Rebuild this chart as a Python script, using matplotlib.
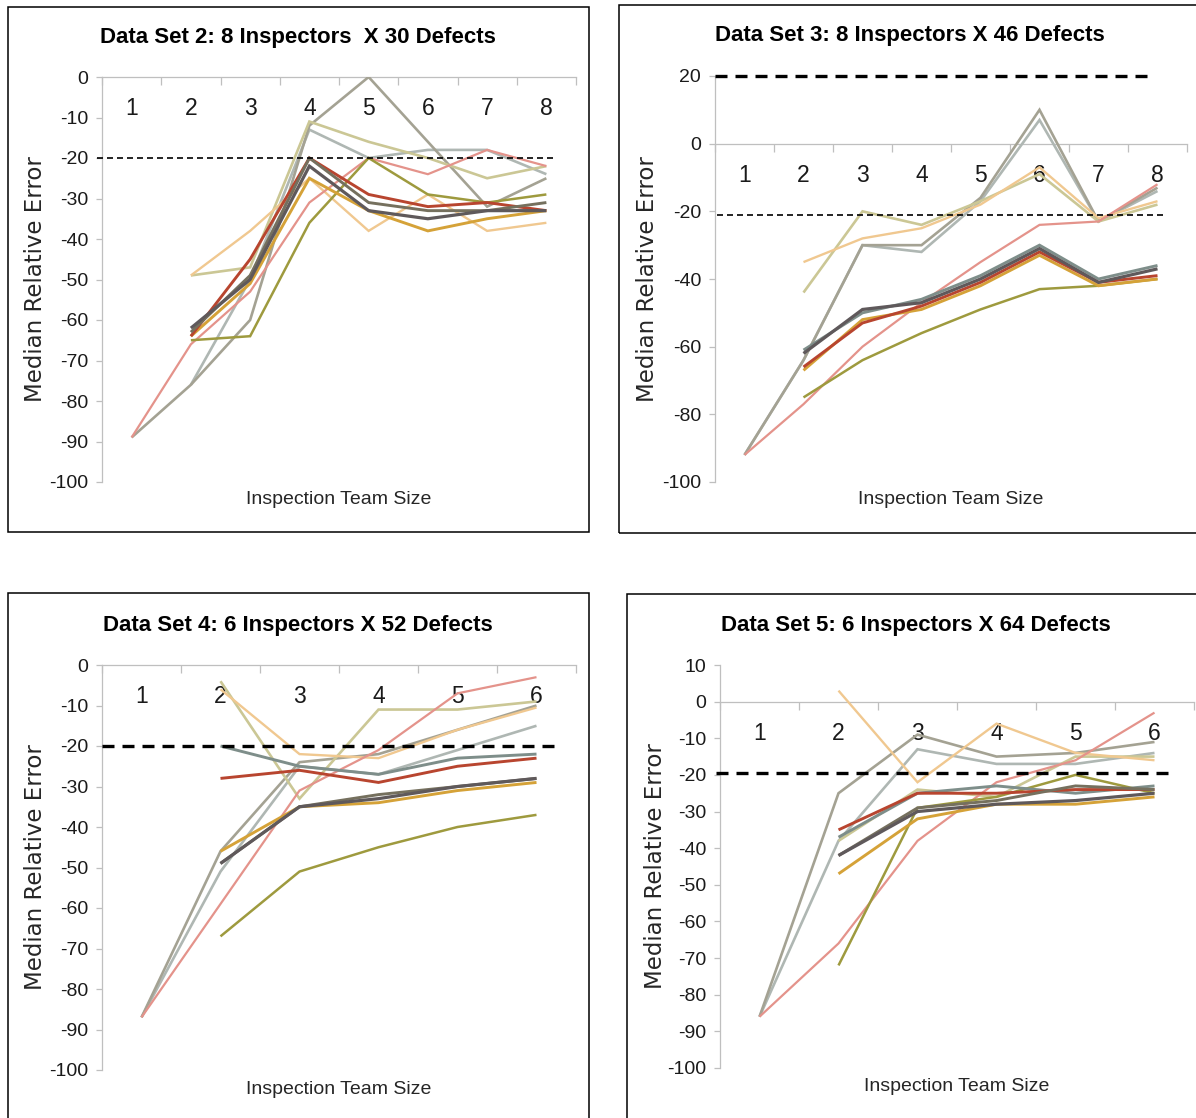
import numpy as np
import matplotlib
matplotlib.use("Agg")
import matplotlib.pyplot as plt
from matplotlib.patches import Rectangle

W, H = 1196, 1118
nan = np.nan

# ---------------- data ----------------
series_order = ["bluegray", "gray", "khaki", "lorange", "pink", "olive",
                "golden", "teal", "red", "dkolive", "darkgray"]

series_colors = {
    "pink": "#E4938B", "gray": "#A4A293", "bluegray": "#AFB7B3",
    "khaki": "#CBC795", "lorange": "#F0C890", "red": "#B8452F",
    "darkgray": "#5F595B", "dkolive": "#75705E", "teal": "#7E8E8A",
    "golden": "#D5A238", "olive": "#9E9A3E",
}
series_widths = {
    "pink": 1.6, "gray": 1.9, "bluegray": 1.9, "khaki": 1.9, "lorange": 1.7,
    "red": 2.1, "darkgray": 2.3, "dkolive": 2.1, "teal": 2.1,
    "golden": 2.1, "olive": 1.8,
}

ds2_sizes = [1, 2, 3, 4, 5, 6, 7, 8]
ds2 = {
    "pink":     [-89, -66, -53, -31, -20, -24, -18, -22],
    "gray":     [-89, -76, -60, -12, 0, -16, -32, -25],
    "bluegray": [nan, -76, -50, -13, -20, -18, -18, -24],
    "khaki":    [nan, -49, -47, -11, -16, -20, -25, -22],
    "lorange":  [nan, -49, -38, -25, -38, -29, -38, -36],
    "red":      [nan, -64, -45, -20, -29, -32, -31, -33],
    "darkgray": [nan, -62, -50, -22, -33, -35, -33, -33],
    "dkolive":  [nan, -63, -49, -20, -31, -33, -33, -31],
    "golden":   [nan, -64, -51, -25, -33, -38, -35, -33],
    "olive":    [nan, -65, -64, -36, -20, -29, -31, -29],
}

ds3_sizes = [1, 2, 3, 4, 5, 6, 7, 8]
ds3 = {
    "pink":     [-92, -77, -60, -47, -35, -24, -23, -12],
    "gray":     [-92, -64, -30, -30, -16, 10, -23, -13],
    "bluegray": [-92, -64, -30, -32, -17, 7, -23, -14],
    "khaki":    [nan, -44, -20, -24, -17, -9, -23, -18],
    "lorange":  [nan, -35, -28, -25, -18, -7, -22, -17],
    "teal":     [nan, -61, -50, -46, -39, -30, -40, -36],
    "darkgray": [nan, -62, -49, -47, -40, -31, -41, -37],
    "red":      [nan, -66, -53, -48, -41, -32, -41, -39],
    "golden":   [nan, -67, -52, -49, -42, -33, -42, -40],
    "olive":    [nan, -75, -64, -56, -49, -43, -42, -40],
}

ds4_sizes = [1, 2, 3, 4, 5, 6]
ds4 = {
    "pink":     [-87, -59, -31, -21, -7, -3],
    "gray":     [-87, -46, -24, -22, -16, -10],
    "bluegray": [-87, -51, -25, -27, -21, -15],
    "khaki":    [nan, -4, -33, -11, -11, -9],
    "lorange":  [nan, -6, -22, -23, -16, -10.5],
    "teal":     [nan, -20, -25, -27, -23, -22],
    "red":      [nan, -28, -26, -29, -25, -23],
    "dkolive":  [nan, -49, -35, -32, -30, -28],
    "darkgray": [nan, -49, -35, -33, -30, -28],
    "golden":   [nan, -46, -35, -34, -31, -29],
    "olive":    [nan, -67, -51, -45, -40, -37],
}

ds5_sizes = [1, 2, 3, 4, 5, 6]
ds5 = {
    "pink":     [-86, -66, -38, -22, -16, -3],
    "gray":     [-86, -25, -9, -15, -14, -11],
    "bluegray": [-86, -38, -13, -17, -17, -14],
    "lorange":  [nan, 3, -22, -6, -14, -16],
    "khaki":    [nan, -38, -24, -26, -15, -15],
    "red":      [nan, -35, -25, -25, -24, -24],
    "teal":     [nan, -37, -25, -23, -25, -23],
    "dkolive":  [nan, -42, -29, -27, -23, -24],
    "darkgray": [nan, -42, -30, -28, -27, -25],
    "golden":   [nan, -47, -32, -28, -28, -26],
    "olive":    [nan, -72, -29, -26, -20, -25],
}

titles = ["Data Set 2: 8 Inspectors  X 30 Defects",
          "Data Set 3: 8 Inspectors X 46 Defects",
          "Data Set 4: 6 Inspectors X 52 Defects",
          "Data Set 5: 6 Inspectors X 64 Defects"]
y_label = "Median Relative Error"
x_label = "Inspection Team Size"

# ---------------- layout ----------------
FONT_TICK = ["Liberation Sans", "DejaVu Sans"]
FONT_TITLE = ["Liberation Sans", "DejaVu Sans"]
FONT_LABEL = ["DejaVu Sans"]
FONT_XLAB = ["Liberation Sans", "DejaVu Sans"]

fig = plt.figure(figsize=(W / 100, H / 100), dpi=100)
fig.patch.set_facecolor("white")


def px_rect(x0, y0, x1, y1):
    return [x0 / W, 1 - y1 / H, (x1 - x0) / W, (y1 - y0) / H]


panels = [
    dict(sizes=ds2_sizes, data=ds2, title=titles[0], axes=(102, 77, 576, 482),
         border=(8, 7, 589, 532), title_xy=(298, 37), ylim=(-100, 0),
         yticks=np.arange(-100, 1, 10),
         refs=[(-20, "thin", -0.01, 0.951)],
         ylab_x=-0.141, xlab_y=-0.044),
    dict(sizes=ds3_sizes, data=ds3, title=titles[1], axes=(715, 76, 1187, 482),
         border=(619, 5, 1215, 533), title_xy=(910, 35), ylim=(-100, 20),
         yticks=np.arange(-100, 21, 20),
         refs=[(20, "thick", 0.0, 0.917), (-21, "thin", 0.004, 0.949)],
         ylab_x=-0.142, xlab_y=-0.044),
    dict(sizes=ds4_sizes, data=ds4, title=titles[2], axes=(102, 665, 576, 1070),
         border=(8, 593, 589, 1130), title_xy=(298, 625), ylim=(-100, 0),
         yticks=np.arange(-100, 1, 10),
         refs=[(-20, "thick", 0.0, 0.962)],
         ylab_x=-0.141, xlab_y=-0.047),
    dict(sizes=ds5_sizes, data=ds5, title=titles[3], axes=(720, 665, 1194, 1068),
         border=(627, 594, 1215, 1130), title_xy=(916, 625), ylim=(-100, 10),
         yticks=np.arange(-100, 11, 10),
         refs=[(-19.5, "thick", -0.008, 0.954)],
         ylab_x=-0.137, xlab_y=-0.047),
]

AXIS_GRAY = "#BFBFBF"

for p in panels:
    # frame around the panel
    bx0, by0, bx1, by1 = p["border"]
    fig.add_artist(Rectangle((bx0 / W, 1 - by1 / H), (bx1 - bx0) / W, (by1 - by0) / H,
                             transform=fig.transFigure, fill=False,
                             edgecolor="black", linewidth=1.1))
    # title
    tx, ty = p["title_xy"]
    fig.text(tx / W, 1 - ty / H, p["title"], ha="center", va="center",
             fontsize=16, fontweight="bold", family=FONT_TITLE, color="black")

    ax = fig.add_axes(px_rect(*p["axes"]))
    ax.set_facecolor("none")
    n = len(p["sizes"])
    ax.set_xlim(0.5, n + 0.5)
    ax.set_ylim(*p["ylim"])

    for name in series_order:
        if name in p["data"]:
            ax.plot(p["sizes"], p["data"][name], color=series_colors[name],
                    linewidth=series_widths[name], solid_joinstyle="miter",
                    solid_capstyle="butt", zorder=3)

    for yv, kind, xmin, xmax in p["refs"]:
        if kind == "thick":
            ax.axhline(yv, xmin=xmin, xmax=xmax, color="black", linewidth=2.4,
                       linestyle=(0, (3.6, 2.4)), clip_on=False, zorder=4)
        else:
            ax.axhline(yv, xmin=xmin, xmax=xmax, color="black", linewidth=1.2,
                       linestyle=(0, (3.6, 2.4)), clip_on=False, zorder=4)

    # spines
    for s in ("top", "right"):
        ax.spines[s].set_visible(False)
    ax.spines["bottom"].set_position(("data", 0))
    ax.spines["bottom"].set_color(AXIS_GRAY)
    ax.spines["left"].set_color(AXIS_GRAY)
    ax.spines["bottom"].set_linewidth(0.9)
    ax.spines["left"].set_linewidth(0.9)
    ax.spines["bottom"].set_zorder(1)

    # x axis: category labels below the zero line, ticks between categories
    ax.set_xticks(p["sizes"])
    ax.set_xticklabels([str(s) for s in p["sizes"]], family=FONT_TICK,
                       fontsize=16.5, color="#1A1A1A")
    ax.set_xticks(np.arange(0.5, n + 1, 1.0), minor=True)
    ax.tick_params(axis="x", which="major", length=0, pad=14.5)
    ax.tick_params(axis="x", which="minor", length=5.5, width=0.9,
                   color=AXIS_GRAY, direction="out")

    # y axis
    ax.set_yticks(p["yticks"])
    ax.set_yticklabels([str(int(v)) for v in p["yticks"]], family=FONT_TICK,
                       fontsize=14, color="#1A1A1A")
    ax.tick_params(axis="y", length=4, width=0.9, color=AXIS_GRAY,
                   direction="out", pad=6)

    ax.set_ylabel(y_label, family=FONT_LABEL, fontsize=16.5, color="#262626")
    ax.yaxis.label.set_verticalalignment("center")
    ax.yaxis.set_label_coords(p["ylab_x"], 0.5)
    ax.text(0.5, p["xlab_y"], x_label, transform=ax.transAxes, ha="center",
            va="center", family=FONT_XLAB, fontsize=14, color="#262626")

fig.savefig("out.png", dpi=100, facecolor="white")
